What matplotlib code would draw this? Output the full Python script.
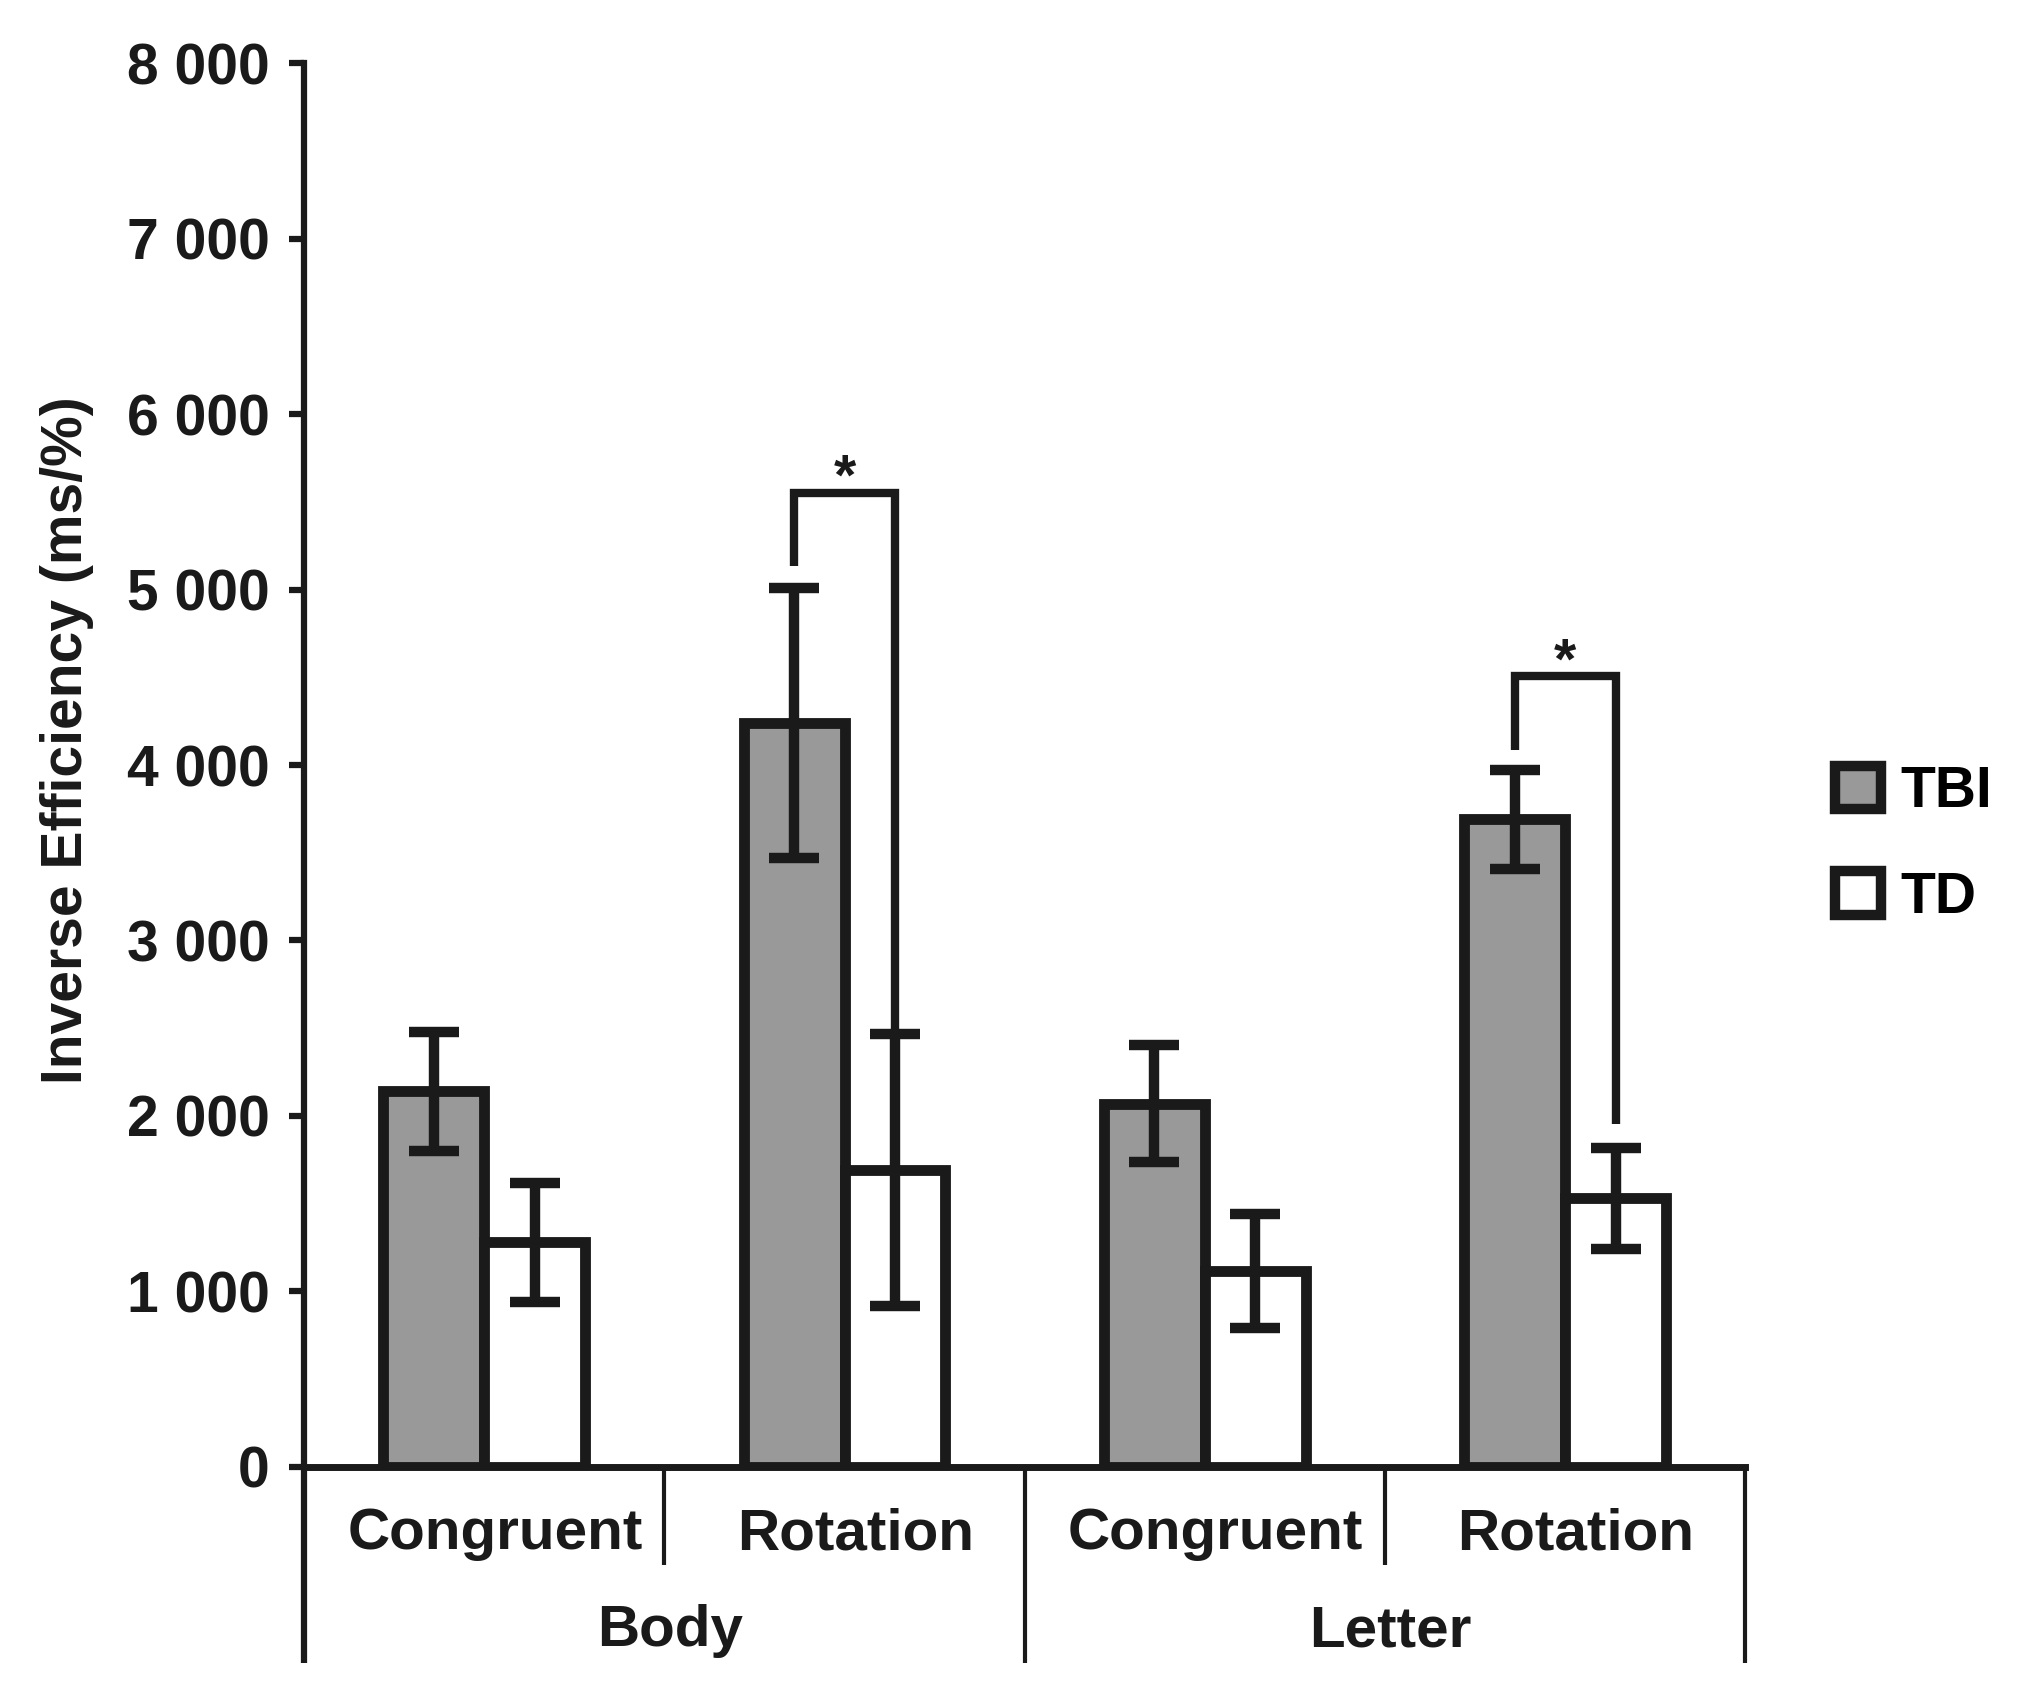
import numpy as np
import matplotlib
matplotlib.use("Agg")
import matplotlib.pyplot as plt
from matplotlib.patches import Patch

plt.rcParams['font.family'] = ['Liberation Sans', 'DejaVu Sans']
plt.rcParams['font.weight'] = 'bold'

# conditions, left to right
conditions = ["Congruent", "Rotation", "Congruent", "Rotation"]
groups = ["Body", "Letter"]
series = ["TBI", "TD"]

# mean inverse efficiency (ms/%) and error bar half-lengths
tbi_mean = [2140, 4240, 2070, 3690]
tbi_err = [340, 770, 335, 280]
td_mean = [1280, 1690, 1115, 1530]
td_err = [340, 775, 325, 290]

# significance brackets: condition index, top, bottom of left leg, bottom of right leg
sig_idx = [1, 3]
sig_top = [5550, 4505]
sig_left = [5135, 4085]
sig_right = [2460, 1955]

yticks = [0, 1000, 2000, 3000, 4000, 5000, 6000, 7000, 8000]
ytick_labels = ["0", "1 000", "2 000", "3 000", "4 000", "5 000", "6 000", "7 000", "8 000"]

INK = '#1a1a1a'
GRAY = '#999999'
FS = 41
W = 0.28

fig = plt.figure(figsize=(20.3, 16.91), dpi=100)
ax = fig.add_axes([0.1498, 0.1325, 0.7100, 0.8302])

x = np.arange(len(conditions))
err_kw = dict(ecolor=INK, elinewidth=7.5, capsize=18, capthick=7.5)
ax.bar(x - W / 2, tbi_mean, W, yerr=tbi_err, color=GRAY, edgecolor=INK,
       linewidth=7.8, joinstyle='miter', error_kw=err_kw, label=series[0])
ax.bar(x + W / 2, td_mean, W, yerr=td_err, color='white', edgecolor=INK,
       linewidth=7.8, joinstyle='miter', error_kw=err_kw, label=series[1])

# brackets with stars
for i, top, lo_l, lo_r in zip(sig_idx, sig_top, sig_left, sig_right):
    xl = x[i] - W / 2
    xr = x[i] + W / 2
    ax.plot([xl, xl, xr, xr], [lo_l, top, top, lo_r], color=INK, lw=6,
            solid_joinstyle='miter', solid_capstyle='butt')
    ax.text((xl + xr) / 2, top + 75, "*", ha='center', va='center',
            fontsize=FS, fontweight='bold', color=INK)

ax.set_xlim(-0.5, len(conditions) - 0.5)
ax.set_ylim(0, 8000)
ax.set_yticks(yticks)
ax.set_yticklabels(ytick_labels)
ax.set_xticks([])
ax.tick_params(axis='y', direction='out', length=10.8, width=4.5,
               color=INK, labelsize=FS, pad=14, labelcolor=INK)
for lab in ax.get_yticklabels():
    lab.set_fontweight('bold')

for s in ['top', 'right']:
    ax.spines[s].set_visible(False)
ax.spines['left'].set_linewidth(4.5)
ax.spines['bottom'].set_linewidth(5)
ax.spines['left'].set_color(INK)
ax.spines['bottom'].set_color(INK)

ax.set_ylabel("Inverse Efficiency (ms/%)", fontsize=FS, fontweight='bold', color=INK)
ax.yaxis.set_label_coords(-0.146, 0.518)

# category axis below the plot
tr = ax.get_xaxis_transform()
for xd, ybot, lw in [(-0.5, -0.1396, 4.5), (0.5, -0.0698, 3), (1.5, -0.1396, 3),
                     (2.5, -0.0698, 3), (3.5, -0.1396, 3)]:
    ax.plot([xd, xd], [0, ybot], transform=tr, color=INK, lw=lw,
            clip_on=False, solid_capstyle='butt')
for xi, name in zip(x, conditions):
    ax.text(xi + 0.03, -0.048, name, transform=tr, ha='center', va='center',
            fontsize=42, fontweight='bold', color=INK)
for gi, name in enumerate(groups):
    ax.text(2 * gi + 0.515, -0.117, name, transform=tr, ha='center', va='center',
            fontsize=42, fontweight='bold', color=INK)

handles = [Patch(facecolor=GRAY, edgecolor=INK, linewidth=7.5, joinstyle='miter'),
           Patch(facecolor='white', edgecolor=INK, linewidth=7.5, joinstyle='miter')]
fig.legend(handles, series, loc='center left', bbox_to_anchor=(0.904, 0.5003),
           frameon=False, fontsize=FS, handlelength=0.8, handleheight=0.8,
           handletextpad=0.35, labelspacing=0.9, borderpad=0, borderaxespad=0,
           prop={'weight': 'bold', 'size': FS})

fig.savefig("out.png", dpi=100, facecolor='white')
